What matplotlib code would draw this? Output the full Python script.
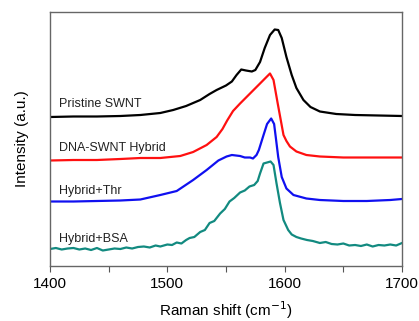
import matplotlib
matplotlib.use("Agg")
import matplotlib.pyplot as plt
from matplotlib.ticker import MultipleLocator

plt.rcParams['font.family'] = ['Liberation Sans', 'DejaVu Sans']

# Raman shift (cm^-1) and intensities (a.u., offset traces)
x_pristine = [1400, 1420, 1440, 1460, 1477, 1494, 1505, 1516, 1528, 1536, 1542, 1550,
              1555, 1559, 1563, 1567, 1572, 1575, 1579, 1583, 1587.5, 1591.5, 1594.5,
              1597.5, 1601.5, 1606, 1610, 1616, 1622, 1630, 1644, 1660, 1680, 1700]
y_pristine = [149, 149.5, 149.5, 150, 151, 153, 156, 160, 166, 172, 176, 180.5,
              184.5, 191, 196.5, 195.5, 194.5, 196, 204, 218, 231, 236.5, 236,
              228, 209, 191, 178, 166, 159, 154.5, 152, 151, 150.5, 150]

x_dna = [1400, 1420, 1440, 1460, 1477, 1494, 1511, 1522, 1533.5, 1542, 1547, 1551,
         1556, 1562, 1570.5, 1579, 1584.5, 1587.5, 1590.5, 1594, 1599, 1601.5, 1604.5,
         1610, 1618.5, 1630, 1650, 1675, 1700]
y_dna = [105.5, 106, 106, 107, 108, 108, 110, 114, 121, 129, 137, 145.5,
         155, 162.5, 172.5, 182.5, 189, 192.5, 186, 163, 131, 125, 119.5,
         114.5, 111, 109.5, 108.5, 108.5, 108.5]

x_thr = [1400, 1420, 1440, 1460, 1477, 1494, 1508, 1522, 1533.5, 1543.5, 1550.5,
         1555, 1562, 1566, 1570.5, 1573, 1576, 1578, 1582, 1585, 1588.5, 1591,
         1592.5, 1594.5, 1597.5, 1601.5, 1607.5, 1618.5, 1630, 1650, 1670, 1690, 1700]
y_thr = [64.5, 64.5, 65, 65.5, 66.5, 71, 75, 86, 96, 105.5, 109.5,
         111, 110, 108.5, 108.5, 107.5, 111, 116, 131, 142, 147.5, 142,
         128, 109, 89, 77.5, 71, 67.5, 66, 65, 65, 66, 67]

x_bsa = [1400, 1405, 1410, 1415, 1420, 1425, 1430, 1435, 1440, 1445, 1450, 1455, 1460,
         1465, 1470, 1475, 1480, 1485, 1490, 1494, 1500, 1504, 1508, 1512, 1516,
         1519, 1523, 1528, 1532, 1536, 1540, 1545, 1549, 1553, 1557, 1562, 1566,
         1570, 1574, 1577, 1579, 1582, 1585, 1588, 1590.5, 1593, 1596, 1599, 1603,
         1606, 1610, 1614, 1619, 1624, 1630, 1635, 1640, 1645, 1650, 1655, 1660,
         1665, 1670, 1675, 1680, 1685, 1690, 1695, 1700]
y_bsa = [17, 18, 16.5, 17.5, 18, 16.5, 17.5, 16, 18, 15.5, 16.5, 17.5, 17,
         18.5, 17.5, 19, 19.5, 18.5, 20.5, 19.5, 21.5, 21, 23.5, 22.5, 26,
         28, 29, 34, 36, 43, 45, 52.5, 57, 64.5, 68, 73.5, 75.5,
         79.5, 81, 85, 92.5, 102.5, 103.5, 104.5, 101, 83, 63, 46, 36,
         31.5, 29, 27.5, 26, 25, 23, 24, 22, 21.5, 22.5, 20.5, 21,
         20, 21.5, 19.5, 21, 20.5, 21.5, 20.5, 23]

labels = ["Pristine SWNT", "DNA-SWNT Hybrid", "Hybrid+Thr", "Hybrid+BSA"]
label_y = [162, 118, 75, 27]
colors = ["#000000", "#ff1010", "#1010f0", "#128a80"]

fig = plt.figure(figsize=(4.19, 3.21), dpi=100)
ax = fig.add_axes([50/419, 55/321, 352/419, 254/321])

series = [(x_pristine, y_pristine), (x_dna, y_dna), (x_thr, y_thr), (x_bsa, y_bsa)]
for (xs, ys), c in zip(series, colors):
    ax.plot(xs, ys, color=c, lw=1.6, solid_joinstyle='round')

for lab, ly in zip(labels, label_y):
    ax.text(1407.5, ly, lab, fontsize=9, va='center', ha='left', color='#222222')

ax.set_xlim(1400, 1700)
ax.set_ylim(0, 254)
ax.xaxis.set_major_locator(MultipleLocator(100))
ax.xaxis.set_minor_locator(MultipleLocator(50))
ax.set_yticks([])
ax.tick_params(axis='x', which='both', direction='out', length=4, width=0.8,
               color='#555555', labelsize=11, pad=4, top=False)
for s in ax.spines.values():
    s.set_color('#666666')
    s.set_linewidth(1.0)

ax.set_xlabel("Raman shift (cm$^{-1}$)", fontsize=11, labelpad=6)
ax.set_ylabel("Intensity (a.u.)", fontsize=11, labelpad=15)

fig.savefig("out.png", dpi=100)
